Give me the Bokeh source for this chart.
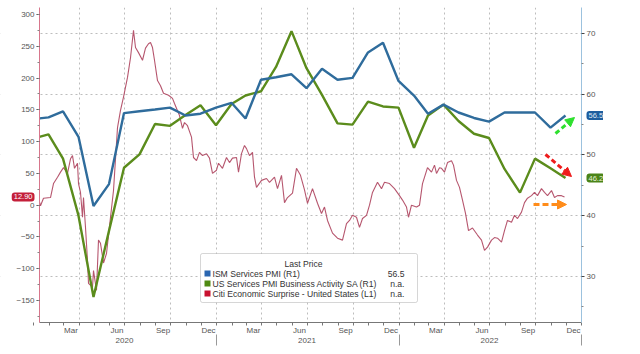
import pandas as pd
from bokeh.plotting import figure
from bokeh.models import (Range1d, LinearAxis, FixedTicker, Grid, Label, BoxAnnotation,
                          Arrow, NormalHead)
from bokeh.embed import file_html
from bokeh.resources import INLINE

# ---------------- data ----------------
pmi_dates = ["2019-12-31", "2020-01-31", "2020-02-29", "2020-03-31", "2020-04-30", "2020-05-31",
             "2020-06-30", "2020-07-31", "2020-08-31", "2020-09-30", "2020-10-31", "2020-11-30",
             "2020-12-31", "2021-01-31", "2021-02-28", "2021-03-31", "2021-04-30", "2021-05-31",
             "2021-06-30", "2021-07-31", "2021-08-31", "2021-09-30", "2021-10-31", "2021-11-30",
             "2021-12-31", "2022-01-31", "2022-02-28", "2022-03-31", "2022-04-30", "2022-05-31",
             "2022-06-30", "2022-07-31", "2022-08-31", "2022-09-30", "2022-10-31", "2022-11-30"]
ism_services = [55.9, 56.2, 57.2, 53.0, 41.6, 45.2, 56.9, 57.2, 57.5, 57.8, 56.5, 56.8,
                57.8, 58.6, 56.0, 62.4, 62.8, 63.3, 61.0, 64.2, 62.4, 62.7, 66.9, 68.5,
                62.2, 59.8, 56.8, 58.3, 57.0, 56.1, 55.5, 57.0, 57.0, 57.0, 54.5, 56.5]
us_services_pmi = [52.7, 53.4, 49.4, 40.0, 26.6, 37.5, 47.9, 50.1, 55.1, 54.8, 56.6, 58.2,
                   54.9, 58.4, 59.8, 60.5, 64.5, 70.4, 64.3, 59.9, 55.2, 55.0, 58.8, 58.0,
                   57.8, 51.2, 56.5, 58.3, 55.6, 53.5, 52.8, 47.7, 43.8, 49.4, 47.8, 46.2]

citi_dates = ["2020-01-13", "2020-01-15", "2020-01-21", "2020-02-04", "2020-02-10", "2020-02-18",
              "2020-02-24", "2020-03-01", "2020-03-09", "2020-03-15", "2020-03-19", "2020-03-23",
              "2020-03-29", "2020-03-31", "2020-04-04", "2020-04-08", "2020-04-10", "2020-04-14",
              "2020-04-18", "2020-04-20", "2020-04-28", "2020-04-30", "2020-05-06", "2020-05-10",
              "2020-05-14", "2020-05-20", "2020-05-26", "2020-06-03", "2020-06-09", "2020-06-17",
              "2020-06-23", "2020-06-29", "2020-07-07", "2020-07-13", "2020-07-19", "2020-07-23",
              "2020-07-29", "2020-08-06", "2020-08-12", "2020-08-18", "2020-08-22", "2020-08-26",
              "2020-08-30", "2020-09-05", "2020-09-11", "2020-09-17", "2020-09-27", "2020-10-05",
              "2020-10-09", "2020-10-19", "2020-10-25", "2020-10-29", "2020-11-04", "2020-11-12",
              "2020-11-16", "2020-11-22", "2020-11-28", "2020-12-04", "2020-12-12", "2020-12-18",
              "2020-12-24", "2021-01-01", "2021-01-05", "2021-01-13", "2021-01-21", "2021-01-27",
              "2021-02-02", "2021-02-10", "2021-02-14", "2021-02-20", "2021-02-26", "2021-03-02",
              "2021-03-08", "2021-03-14", "2021-03-18", "2021-03-22", "2021-04-01", "2021-04-11",
              "2021-04-17", "2021-04-27", "2021-05-03", "2021-05-11", "2021-05-17", "2021-05-23",
              "2021-06-02", "2021-06-10", "2021-06-18", "2021-06-26", "2021-07-02", "2021-07-12",
              "2021-07-22", "2021-07-30", "2021-08-05", "2021-08-11", "2021-08-21", "2021-08-31",
              "2021-09-10", "2021-09-18", "2021-09-24", "2021-09-30", "2021-10-08", "2021-10-14",
              "2021-10-20", "2021-10-28", "2021-11-03", "2021-11-09", "2021-11-19", "2021-11-27",
              "2021-12-03", "2021-12-13", "2021-12-23", "2022-01-02", "2022-01-08", "2022-01-16",
              "2022-01-20", "2022-01-26", "2022-02-05", "2022-02-11", "2022-02-17", "2022-02-27",
              "2022-03-07", "2022-03-13", "2022-03-17", "2022-03-23", "2022-03-27", "2022-04-02",
              "2022-04-08", "2022-04-16", "2022-04-20", "2022-04-26", "2022-05-02", "2022-05-08",
              "2022-05-14", "2022-05-20", "2022-05-28", "2022-06-07", "2022-06-15", "2022-06-21",
              "2022-06-27", "2022-07-05", "2022-07-11", "2022-07-17", "2022-07-25", "2022-07-31",
              "2022-08-06", "2022-08-14", "2022-08-20", "2022-08-26", "2022-09-03", "2022-09-09",
              "2022-09-15", "2022-09-23", "2022-09-29", "2022-10-05", "2022-10-13", "2022-10-19",
              "2022-10-25", "2022-11-02", "2022-11-08", "2022-11-14", "2022-11-22", "2022-11-28"]
citi_surprise = [5, -1, 11, 12, 34, 44,
                 52, 59, 50, 73, 78, 58,
                 66, 34, 20, -19, 12, -35,
                 -87, -123, -129, -103, -134, -55,
                 -60, -91, -76, -19, 23, 122,
                 149, 170, 201, 232, 275, 248,
                 240, 228, 247, 254, 256, 248,
                 228, 196, 188, 176, 173, 168,
                 160, 141, 121, 130, 125, 107,
                 75, 70, 83, 78, 81, 74,
                 50, 55, 66, 58, 75, 67,
                 74, 75, 52, 81, 94, 89,
                 78, 83, 44, 28, 39, 42,
                 36, 44, 26, 47, 4, 12,
                 19, 58, 47, 24, 3, 26,
                 3, -13, -3, -24, -44, -52,
                 -55, -29, -24, -16, -19, -35,
                 -21, -16, 0, 20, 36, 26,
                 36, 34, 26, 15, 8, -3,
                 -19, 0, -3, 0, 34, 59,
                 52, 63, 50, 59, 58, 52,
                 67, 70, 63, 39, 28, 8,
                 -13, -40, -36, -47, -55, -71,
                 -66, -55, -51, -52, -58, -40,
                 -24, -27, -16, -21, -11, 4,
                 11, 15, 20, 15, 26, 20,
                 15, 23, 12, 15, 15, 12.9]

series_names = ["ISM Services PMI  (R1)",
                "US Services PMI Business Activity SA  (R1)",
                "Citi Economic Surprise - United States  (L1)"]
series_last = [f"{ism_services[-1]:.1f}", "n.a.", "n.a."]

month_labels = ["Mar", "Jun", "Sep", "Dec"] * 3
month_label_dates = ["2020-03-16", "2020-06-16", "2020-09-16", "2020-12-16",
                     "2021-03-16", "2021-06-16", "2021-09-16", "2021-12-16",
                     "2022-03-16", "2022-06-16", "2022-09-16", "2022-12-16"]
quarter_grid_dates = ["2020-04-01", "2020-07-01", "2020-10-01", "2021-01-01",
                      "2021-04-01", "2021-07-01", "2021-10-01", "2022-01-01",
                      "2022-04-01", "2022-07-01", "2022-10-01"]
year_labels = ["2020", "2021", "2022"]
year_label_dates = ["2020-07-01", "2021-07-01", "2022-07-01"]
year_sep_dates = ["2021-01-01", "2022-01-01", "2023-01-01"]
left_ticks = [-150, -100, -50, 0, 50, 100, 150, 200, 250, 300]
right_ticks = [30, 40, 50, 60, 70]

# ---------------- helpers ----------------
ORIGIN = pd.Timestamp("2020-01-01")


def days(seq):
    return [int((pd.Timestamp(s) - ORIGIN).days) for s in seq]


pmi_x = days(pmi_dates)
citi_x = days(citi_dates)
month_label_x = days(month_label_dates)
month_start_x = days([f"{y}-{m:02d}-01" for y in (2020, 2021, 2022) for m in range(1, 13)] + ["2023-01-01"])
quarter_x = days(quarter_grid_dates)
year_label_x = days(year_label_dates)
year_sep_x = days(year_sep_dates)

W, H = 603, 354
# visible chart box (pixels) and the data values at its edges
FL, FR, FT, FB = 39, 581, 7, 322
D0, D1 = 12, 1096            # days at FL, FR
L0, L1 = -184.6, 311.0       # left-axis values at FB, FT
R0, R1 = 22.4, 74.3          # right-axis values at FB, FT

kx = (D1 - D0) / (FR - FL)
kl = (L1 - L0) / (FB - FT)
kr = (R1 - R0) / (FB - FT)
X_LO, X_HI = D0 - FL * kx, D1 + (W - FR) * kx
YL_LO, YL_HI = L0 - (H - FB) * kl, L1 + FT * kl
YR_LO, YR_HI = R0 - (H - FB) * kr, R1 + FT * kr


def ax(px):
    return D0 + (px - FL) * kx


def ay(py):
    return L1 - (py - FT) * kl


FONT = "Liberation Sans"
GRAY = "#555555"
BLUE = "#2f6c9c"
GREEN = "#5b8c1c"
RED = "#b24d66"
AXFS = "8px"
LEGFS = "8.6px"

p = figure(width=W, height=H, x_range=Range1d(X_LO, X_HI), y_range=Range1d(YL_LO, YL_HI),
           output_backend="svg", toolbar_location=None,
           min_border_left=0, min_border_right=0, min_border_top=0, min_border_bottom=0,
           background_fill_color="white", border_fill_color="white", outline_line_color=None)
p.extra_y_ranges = {"pmi": Range1d(YR_LO, YR_HI)}

# grids (drawn under everything)
p.xgrid[0].ticker = FixedTicker(ticks=quarter_x)
p.xgrid[0].grid_line_color = "#bdbdbd"
p.xgrid[0].grid_line_dash = "2 3"
p.ygrid[0].visible = False
p.add_layout(Grid(dimension=1, ticker=FixedTicker(ticks=right_ticks), y_range_name="pmi",
                  grid_line_color="#bdbdbd", grid_line_dash="2 3"))

# lines
p.line(citi_x, citi_surprise, line_color=RED, line_width=1.1, line_alpha=0.95)
p.line(pmi_x, us_services_pmi, line_color=GREEN, line_width=2.4, y_range_name="pmi")
p.line(pmi_x, ism_services, line_color=BLUE, line_width=2.4, y_range_name="pmi")

# white margins masking everything outside the chart box (below the axes)
for kw in (dict(right=D0), dict(left=D1), dict(top=L0), dict(bottom=L1)):
    p.renderers.append(BoxAnnotation(level="glyph", fill_color="white", fill_alpha=1,
                                     line_color=None, **kw))

# x axis (months)
xa = p.xaxis[0]
xa.fixed_location = L0
xa.bounds = (D0, D1)
xa.ticker = FixedTicker(ticks=month_label_x, minor_ticks=month_start_x)
xa.major_label_overrides = {int(k): v for k, v in zip(month_label_x, month_labels)}
xa.axis_line_color = "#777777"
xa.major_tick_line_color = None
xa.major_tick_out = 0
xa.major_tick_in = 0
xa.minor_tick_line_color = "#777777"
xa.minor_tick_out = 3
xa.minor_tick_in = 0
xa.major_label_standoff = 0
xa.major_label_text_font = FONT
xa.major_label_text_font_size = AXFS
xa.major_label_text_color = GRAY

# year separators
sep_axis = LinearAxis(fixed_location=ay(334), bounds=(D0, D1),
                      ticker=FixedTicker(ticks=[], minor_ticks=year_sep_x),
                      axis_line_color=None, major_tick_line_color=None, major_tick_out=0, major_tick_in=0,
                      minor_tick_line_color="#999999", minor_tick_out=11, minor_tick_in=0,
                      major_label_text_font_size="0px")
p.add_layout(sep_axis, "below")

# year labels
yr_axis = LinearAxis(fixed_location=ay(337), bounds=(D0, D1),
                     ticker=FixedTicker(ticks=year_label_x, minor_ticks=[]),
                     major_label_overrides={int(k): v for k, v in zip(year_label_x, year_labels)},
                     axis_line_color=None, major_tick_line_color=None, major_tick_out=0, major_tick_in=0,
                     minor_tick_line_color=None, minor_tick_out=0, minor_tick_in=0,
                     major_label_standoff=0, major_label_text_font=FONT, major_label_text_font_size=AXFS,
                     major_label_text_color=GRAY)
p.add_layout(yr_axis, "below")

# left axis
la = p.yaxis[0]
la.fixed_location = D0
la.ticker = FixedTicker(ticks=left_ticks, minor_ticks=list(range(-175, 311, 25)))
la.bounds = (L0, L1)
la.axis_line_color = "#d7768c"
la.major_tick_line_color = "#444444"
la.major_tick_out = 3
la.major_tick_in = 0
la.minor_tick_line_color = "#888888"
la.minor_tick_out = 2
la.minor_tick_in = 0
la.major_label_standoff = 2
la.major_label_text_font = FONT
la.major_label_text_font_size = AXFS
la.major_label_text_color = GRAY

# right axis
ra = LinearAxis(y_range_name="pmi", fixed_location=D1, bounds=(R0, R1),
                ticker=FixedTicker(ticks=right_ticks, minor_ticks=[25, 35, 45, 55, 65]),
                axis_line_color="#9cc2de", major_tick_line_color="#444444", major_tick_out=3, major_tick_in=0,
                minor_tick_line_color="#888888", minor_tick_out=2, minor_tick_in=0, major_label_standoff=2,
                major_label_text_font=FONT, major_label_text_font_size=AXFS, major_label_text_color=GRAY)
p.add_layout(ra, "right")

# value badges
p.add_layout(Label(x=D0, y=citi_surprise[-1], x_offset=-5, text=f"{citi_surprise[-1]:.2f}",
                   text_align="right", text_baseline="middle", text_color="white",
                   text_font=FONT, text_font_size="7.5px", background_fill_color="#c41f3a",
                   padding=2, border_radius=3))
p.add_layout(Label(x=D1, y=ism_services[-1], y_range_name="pmi", x_offset=5, text=f"{ism_services[-1]:.1f}",
                   text_align="left", text_baseline="middle", text_color="#dfe9f5",
                   text_font=FONT, text_font_size="7.5px", background_fill_color="#1e5e9e",
                   padding=2, border_radius=3))
p.add_layout(Label(x=D1, y=us_services_pmi[-1], y_range_name="pmi", x_offset=5,
                   text=f"{us_services_pmi[-1]:.1f}",
                   text_align="left", text_baseline="middle", text_color="#e8f2dc",
                   text_font=FONT, text_font_size="7.5px", background_fill_color="#4a8418",
                   padding=2, border_radius=3))

# arrows
p.add_layout(Arrow(x_start=ax(555), y_start=ay(133), x_end=ax(574), y_end=ay(117),
                   line_color="#2ee02e", line_width=3, line_dash="5 3",
                   end=NormalHead(size=9, fill_color="#2ee02e", line_color="#2ee02e")))
p.add_layout(Arrow(x_start=ax(545), y_start=ay(154), x_end=ax(571), y_end=ay(176),
                   line_color="#ee1c1c", line_width=3, line_dash="5 3",
                   end=NormalHead(size=9, fill_color="#ee1c1c", line_color="#ee1c1c")))
p.add_layout(Arrow(x_start=ax(533), y_start=ay(204), x_end=ax(566), y_end=ay(204),
                   line_color="#ff8c1a", line_width=3, line_dash="6 3",
                   end=NormalHead(size=9, fill_color="#ff8c1a", line_color="#ff8c1a")))

# legend box
p.add_layout(BoxAnnotation(left=ax(200), right=ax(417), top=ay(253), bottom=ay(302),
                           fill_color="white", fill_alpha=1, line_color="#777777", line_width=1,
                           border_radius=2))
p.add_layout(Label(x=ax(303), y=ay(263), text="Last Price", text_align="center", text_baseline="middle",
                   text_font=FONT, text_font_size=LEGFS, text_color="#333333"))
for i, (name, last, col) in enumerate(zip(series_names, series_last, ["#2a66b0", "#4e8a12", "#c8102e"])):
    yy = 273 + 10 * i
    p.add_layout(BoxAnnotation(left=ax(204), right=ax(210), top=ay(yy - 3), bottom=ay(yy + 3),
                               fill_color=col, fill_alpha=1, line_color=None))
    p.add_layout(Label(x=ax(212), y=ay(yy), text=name, text_align="left", text_baseline="middle",
                       text_font=FONT, text_font_size=LEGFS, text_color="#333333"))
    p.add_layout(Label(x=ax(404), y=ay(yy), text=last, text_align="right", text_baseline="middle",
                       text_font=FONT, text_font_size=LEGFS, text_color="#333333"))

open("out.html", "w").write(file_html(p, INLINE))
